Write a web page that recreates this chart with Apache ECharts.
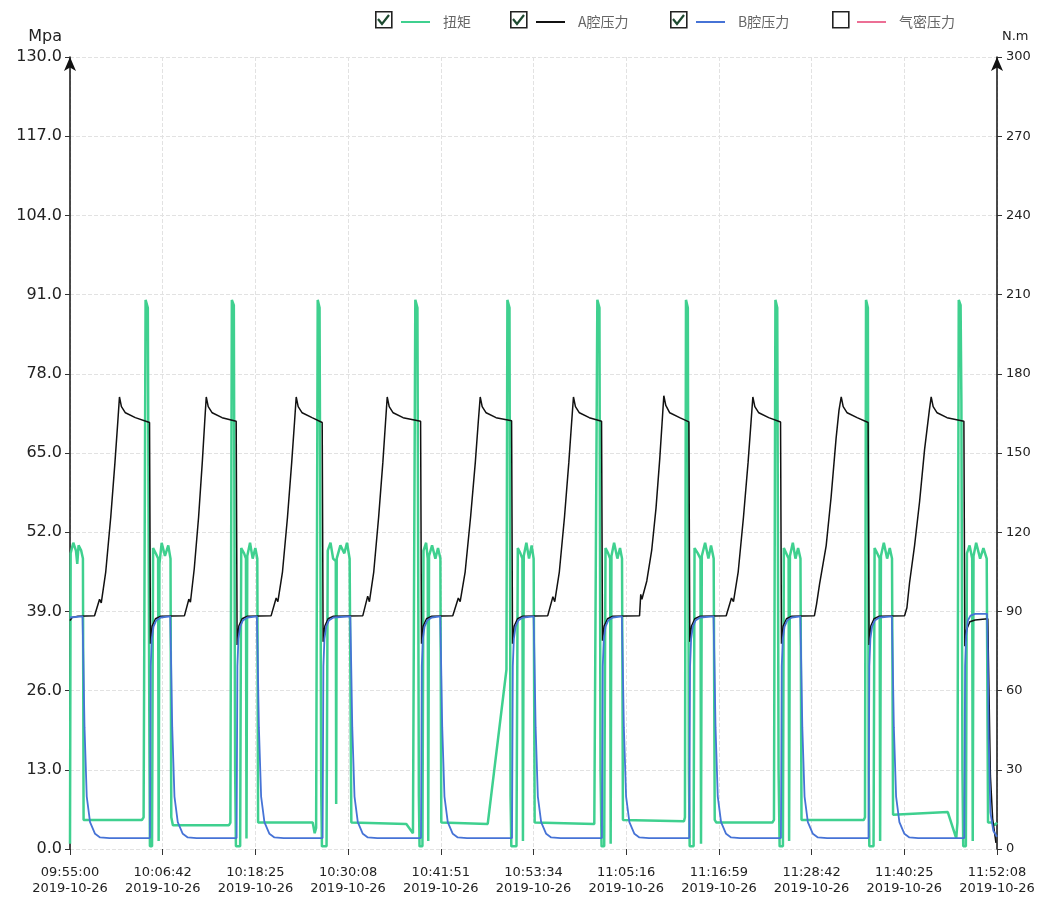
<!DOCTYPE html>
<html><head><meta charset="utf-8">
<script src="https://cdn.jsdelivr.net/npm/echarts@6/dist/echarts.min.js"></script>
<style>html,body{margin:0;padding:0;background:#fff}#chart{width:1043px;height:900px}</style>
</head><body><div id="chart"></div>
<script>
// x tick labels (time of day), date line
const tickTimes = ['09:55:00','10:06:42','10:18:25','10:30:08','10:41:51','10:53:34','11:05:16','11:16:59','11:28:42','11:40:25','11:52:08'];
const tickDate = '2019-10-26';
const xSpan = 7028;          // seconds from 09:55:00 to 11:52:08
const xStep = 702.8;         // seconds between labelled ticks
const seriesNames = ['扭矩', 'A腔压力', 'B腔压力', '气密压力'];

// 扭矩 (N.m) : [seconds since 09:55:00, value]
const torque = [
[0,2],[5,112],[25,116],[45,113],[55,108],[65,115],[85,113],[98,110],[103,11],[115,11],
[545,11],[558,12],[573,208],[590,205],[602,40],[606,1],[622,1],[630,114],[650,112],[668,110],[672,3],[678,108],[695,116],[720,111],[745,115],[762,110],[768,12],[780,9],
[1205,9],[1216,10],[1227,208],[1242,206],[1252,30],[1258,1],[1290,1],[1298,114],[1320,112],[1334,110],[1338,4],[1344,111],[1365,116],[1385,110],[1405,114],[1420,110],[1426,10],[1440,10],
[1840,10],[1855,6],[1866,8],[1878,208],[1892,205],[1905,20],[1910,1],[1945,1],[1954,113],[1975,116],[1995,110],[2015,109],[2018,17],[2022,110],[2050,115],[2080,112],[2100,116],[2120,110],[2133,10],[2145,9.5],
[2550,9.5],[2600,6],[2608,6],[2618,208],[2634,205],[2645,20],[2650,1],[2672,1],[2680,113],[2700,116],[2712,110],[2716,3],[2722,111],[2745,115],[2770,110],[2790,114],[2808,110],[2815,10],[2830,9.5],
[3167,9.5],[3309,68],[3316,208],[3332,205],[3340,20],[3346,1],[3385,1],[3395,114],[3415,112],[3430,110],[3434,3],[3440,111],[3460,116],[3480,110],[3500,115],[3515,110],[3523,10],[3535,9.5],
[3975,9.5],[3986,10],[3998,208],[4014,205],[4022,30],[4030,1],[4050,1],[4060,114],[4080,112],[4095,110],[4099,2],[4105,111],[4125,116],[4150,110],[4170,114],[4185,110],[4192,11],[4205,10.5],
[4655,10.5],[4662,12],[4670,208],[4684,205],[4692,30],[4698,1],[4728,1],[4735,114],[4760,112],[4780,110],[4784,2],[4790,111],[4815,116],[4840,110],[4860,115],[4880,110],[4888,11],[4900,10],
[5325,10],[5337,11],[5348,208],[5362,205],[5372,30],[5380,1],[5405,1],[5412,114],[5430,112],[5448,110],[5452,3],[5458,111],[5480,116],[5500,110],[5520,114],[5538,110],[5546,11],[5560,11],
[6018,11],[6027,12],[6035,208],[6049,205],[6055,30],[6060,1],[6092,1],[6100,114],[6120,112],[6138,110],[6142,3],[6148,111],[6170,116],[6195,110],[6215,114],[6232,110],[6240,13],[6255,13],
[6655,14],[6719,4],[6728,10],[6738,208],[6752,206],[6758,170],[6766,30],[6772,1],[6792,1],[6800,112],[6820,115],[6840,110],[6844,3],[6850,111],[6870,116],[6900,110],[6925,114],[6950,110],[6960,10],[6990,10],[7010,9],[7028,10]
];

// A腔压力 (Mpa)
const pressureA = [
[0,37.5],[15,38.0],[60,38.2],
[186,38.3],[224,41.0],[237,40.4],[271,45.5],[309,54.5],[341,63.5],[362,70.0],[375,74.2],[390,72.6],[420,71.6],[495,70.8],[603,70.0],[610,33.7],[623,36.6],[648,37.8],[688,38.2],
[868,38.3],[901,41.0],[913,40.5],[942,46.0],[975,54.5],[1003,63.5],[1021,70.0],[1033,74.2],[1048,72.6],[1078,71.6],[1153,70.8],[1260,70.2],[1267,33.5],[1280,36.6],[1305,37.8],[1345,38.2],
[1525,38.3],[1563,41.2],[1576,40.6],[1611,45.5],[1649,54.5],[1681,63.5],[1702,70.0],[1715,74.2],[1730,72.6],[1760,71.6],[1835,70.8],[1912,70.0],[1919,34.0],[1932,36.6],[1957,37.8],[1997,38.2],
[2220,38.3],[2257,41.5],[2270,40.6],[2303,45.5],[2340,54.5],[2372,63.5],[2392,70.0],[2405,74.2],[2420,72.6],[2450,71.6],[2525,70.8],[2658,70.2],[2665,33.7],[2678,36.6],[2703,37.8],[2743,38.2],
[2902,38.3],[2944,41.2],[2958,40.6],[2996,45.5],[3037,54.5],[3073,63.5],[3095,70.0],[3110,74.2],[3125,72.6],[3155,71.6],[3230,70.8],[3348,70.3],[3355,33.7],[3368,36.6],[3393,37.8],[3433,38.2],
[3622,38.3],[3661,41.4],[3675,40.6],[3710,45.5],[3749,54.5],[3782,63.5],[3803,70.0],[3817,74.2],[3832,72.6],[3862,71.6],[3937,70.8],[4030,70.2],[4037,34.2],[4050,36.6],[4075,37.8],[4115,38.2],
[4318,38.3],[4327,41.8],[4336,41.0],[4373,44.0],[4410,49.0],[4443,56.0],[4471,64.0],[4489,70.0],[4502,74.4],[4517,72.8],[4547,71.6],[4622,70.8],[4692,70.1],[4699,34.0],[4712,36.6],[4737,37.8],[4777,38.2],
[4975,38.3],[5015,41.2],[5030,40.6],[5066,45.5],[5106,54.5],[5141,63.5],[5163,70.0],[5177,74.2],[5192,72.6],[5222,71.6],[5297,70.8],[5387,70.1],[5394,33.7],[5407,36.6],[5432,37.8],[5472,38.2],
[5644,38.3],[5660,40.2],[5683,43.5],[5733,49.8],[5770,57.7],[5808,67.4],[5830,72.0],[5847,74.2],[5862,72.6],[5892,71.6],[5967,70.8],[6051,70.0],[6058,33.5],[6071,36.6],[6096,37.8],[6136,38.2],
[6327,38.3],[6345,39.6],[6365,43.7],[6403,49.8],[6441,57.0],[6479,65.6],[6515,72.0],[6529,74.2],[6544,72.6],[6574,71.6],[6649,70.8],[6777,70.2],[6784,33.3],[6797,36.0],[6822,37.3],[6862,37.6],
[6958,37.8],[6968,25],[6978,12],[6995,5],[7020,1]
];

// B腔压力 (Mpa)
const pressureB = [
[0,38.0],[95,38.2],[102,30],[110,20],[127,8.6],[152,4.4],[190,2.5],[228,1.9],[300,1.8],
[606,1.8],[612,30],[620,34.5],[633,36.5],[653,37.5],[688,38.0],
[760,38.2],[767,30],[775,20],[792,8.6],[817,4.4],[855,2.5],[893,1.9],[960,1.8],
[1263,1.8],[1269,30],[1277,34.5],[1290,36.5],[1310,37.5],[1345,38.0],
[1417,38.2],[1424,30],[1432,20],[1449,8.6],[1474,4.4],[1512,2.5],[1550,1.9],[1620,1.8],
[1915,1.8],[1921,30],[1929,34.5],[1942,36.5],[1962,37.5],[1997,38.0],
[2125,38.2],[2132,30],[2140,20],[2157,8.6],[2182,4.4],[2220,2.5],[2258,1.9],[2330,1.8],
[2661,1.8],[2667,30],[2675,34.5],[2688,36.5],[2708,37.5],[2743,38.0],
[2807,38.2],[2814,30],[2822,20],[2839,8.6],[2864,4.4],[2902,2.5],[2940,1.9],[3010,1.8],
[3351,1.8],[3357,30],[3365,34.5],[3378,36.5],[3398,37.5],[3433,38.0],
[3515,38.2],[3522,30],[3530,20],[3547,8.6],[3572,4.4],[3610,2.5],[3648,1.9],[3720,1.8],
[4033,1.8],[4039,30],[4047,34.5],[4060,36.5],[4080,37.5],[4115,38.0],
[4184,38.2],[4191,30],[4199,20],[4216,8.6],[4241,4.4],[4279,2.5],[4317,1.9],[4390,1.8],
[4695,1.8],[4701,30],[4709,34.5],[4722,36.5],[4742,37.5],[4777,38.0],
[4879,38.2],[4886,30],[4894,20],[4911,8.6],[4936,4.4],[4974,2.5],[5012,1.9],[5080,1.8],
[5390,1.8],[5396,30],[5404,34.5],[5417,36.5],[5437,37.5],[5472,38.0],
[5537,38.2],[5544,30],[5552,20],[5569,8.6],[5594,4.4],[5632,2.5],[5670,1.9],[5740,1.8],
[6054,1.8],[6060,30],[6068,34.5],[6081,36.5],[6101,37.5],[6136,38.0],
[6231,38.2],[6238,30],[6246,20],[6263,8.6],[6288,4.4],[6326,2.5],[6364,1.9],[6430,1.8],
[6780,1.8],[6786,30],[6794,35],[6807,37.5],[6827,38.3],[6862,38.6],
[6952,38.6],[6958,32],[6965,18],[6978,6],[7000,3],[7028,2]
];

// 气密压力 (not shown in the picture)
const sealPressure = [];

const colors = ['#3fd08f', '#111111', '#4673d6', '#ec6f95'];

const chart = echarts.init(document.getElementById('chart'), null, {renderer: 'canvas'});

const legendLefts = [396, 531, 691, 852];
const boxLefts = [375, 510, 670, 832];
const checked = [true, true, true, false];

const legends = seriesNames.map((n, i) => ({
  data: [n], left: legendLefts[i], top: 10, icon: 'rect', itemWidth: 29, itemHeight: 2,
  selectedMode: false,
  textStyle: {color: '#666', fontSize: 14, fontFamily: 'Noto Sans CJK SC', padding: [0, 0, 0, 8]}
}));

const graphics = [];
boxLefts.forEach((x, i) => {
  graphics.push({type: 'rect', left: x, top: 11, shape: {width: 16, height: 16},
    style: {fill: '#fff', stroke: '#222', lineWidth: 1.6}, z: 100});
  if (checked[i]) {
    graphics.push({type: 'polyline', x: x, y: 11, shape: {points: [[3, 8], [7, 13], [14, 4]]},
      style: {fill: null, stroke: '#1d4a30', lineWidth: 2.2}, z: 101});
  }
});

const font = 'DejaVu Sans';

chart.setOption({
  animation: false,
  backgroundColor: '#fff',
  color: colors,
  legend: legends,
  graphic: graphics,
  grid: {left: 70, right: 46, top: 57, bottom: 51},
  xAxis: {
    type: 'value', min: 0, max: xSpan, interval: xStep,
    axisLine: {show: false},
    axisTick: {show: true, length: 6, lineStyle: {color: '#333'}},
    splitLine: {show: true, lineStyle: {color: '#e2e2e2', type: 'dashed'}},
    axisLabel: {
      color: '#222', fontFamily: font, fontSize: 13, lineHeight: 16, margin: 16, showMaxLabel: true, showMinLabel: true,
      formatter: v => tickTimes[Math.round(v / xStep)] + '\n' + tickDate
    }
  },
  yAxis: [
    {
      type: 'value', name: 'Mpa', min: 0, max: 130, interval: 13, position: 'left',
      nameGap: 12,
      nameTextStyle: {color: '#222', fontSize: 16, fontFamily: font, align: 'right', padding: [0, 8, 0, 0]},
      axisLine: {show: true, lineStyle: {color: '#111', width: 1.5}, symbol: ['none', 'arrow'], symbolSize: [9, 14]},
      axisTick: {show: true, length: 5, lineStyle: {color: '#333'}},
      splitLine: {show: true, lineStyle: {color: '#e2e2e2', type: 'dashed'}},
      axisLabel: {color: '#222', fontFamily: font, fontSize: 16, margin: 8, formatter: v => v.toFixed(1)}
    },
    {
      type: 'value', name: 'N.m', min: 0, max: 300, interval: 30, position: 'right',
      nameGap: 14,
      nameTextStyle: {color: '#222', fontSize: 13, fontFamily: font, align: 'left', padding: [0, 0, 0, 5]},
      axisLine: {show: true, lineStyle: {color: '#111', width: 1.5}, symbol: ['none', 'arrow'], symbolSize: [9, 14]},
      axisTick: {show: true, length: 5, lineStyle: {color: '#333'}},
      splitLine: {show: false},
      axisLabel: {color: '#222', fontFamily: font, fontSize: 13, margin: 9}
    }
  ],
  series: [
    {name: seriesNames[0], type: 'line', yAxisIndex: 1, data: torque, showSymbol: false, symbol: 'none',
      lineStyle: {width: 2.5, color: colors[0]}, itemStyle: {color: colors[0]}, z: 2},
    {name: seriesNames[1], type: 'line', yAxisIndex: 0, data: pressureA, showSymbol: false, symbol: 'none',
      lineStyle: {width: 1.5, color: colors[1]}, itemStyle: {color: colors[1]}, z: 3},
    {name: seriesNames[2], type: 'line', yAxisIndex: 0, data: pressureB, showSymbol: false, symbol: 'none',
      lineStyle: {width: 1.8, color: colors[2]}, itemStyle: {color: colors[2]}, z: 4},
    {name: seriesNames[3], type: 'line', yAxisIndex: 0, data: sealPressure, showSymbol: false, symbol: 'none',
      lineStyle: {width: 1.5, color: colors[3]}, itemStyle: {color: colors[3]}, z: 1}
  ]
});
</script>
</body></html>
